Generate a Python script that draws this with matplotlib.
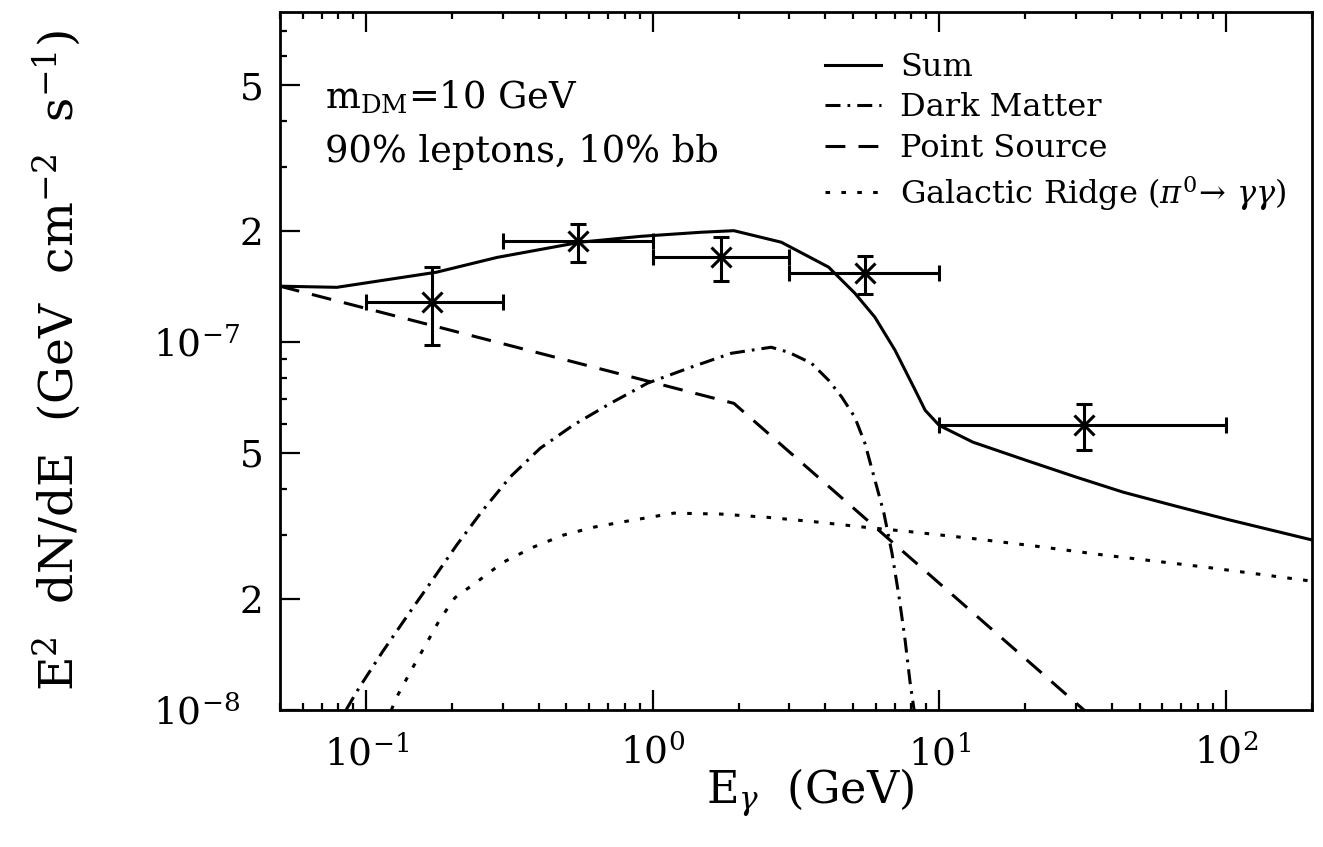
import matplotlib
matplotlib.use("Agg")
import matplotlib.pyplot as plt
import matplotlib.ticker as ticker

plt.rcParams["font.family"] = ["DejaVu Serif"]
plt.rcParams["mathtext.fontset"] = "dejavuserif"

# ── data (E in GeV, E^2 dN/dE in GeV cm^-2 s^-1) ──
sum_E = [0.05, 0.079, 0.176, 0.286, 0.558, 0.908, 1.47, 1.92, 2.81, 4.11, 5.07,
         5.96, 7.01, 8.24, 8.93, 10.0, 13.1, 20.0, 30.0, 43.9, 67.3, 101, 200]
sum_F = [1.42e-7, 1.41e-7, 1.55e-7, 1.70e-7, 1.87e-7, 1.94e-7, 1.99e-7, 2.01e-7,
         1.87e-7, 1.60e-7, 1.36e-7, 1.17e-7, 9.51e-8, 7.41e-8, 6.53e-8, 5.94e-8,
         5.35e-8, 4.78e-8, 4.30e-8, 3.91e-8, 3.58e-8, 3.30e-8, 2.90e-8]

dm_E = [0.085, 0.0945, 0.114, 0.1416, 0.1705, 0.207, 0.255, 0.318, 0.405, 0.528,
        0.712, 0.960, 1.36, 1.88, 2.59, 2.98, 3.58, 4.11, 4.57, 5.07, 5.50, 6.41,
        6.84, 7.24, 7.60, 7.91, 8.17, 8.5]
dm_F = [1.00e-8, 1.15e-8, 1.44e-8, 1.84e-8, 2.26e-8, 2.81e-8, 3.49e-8, 4.30e-8,
        5.15e-8, 5.95e-8, 6.82e-8, 7.74e-8, 8.55e-8, 9.33e-8, 9.69e-8, 9.39e-8,
        8.77e-8, 7.88e-8, 7.09e-8, 6.26e-8, 5.32e-8, 3.43e-8, 2.67e-8, 2.03e-8,
        1.55e-8, 1.19e-8, 1.00e-8, 0.5e-8]

ps_E = [0.05, 1.92, 32.0, 200]
ps_F = [1.42e-7, 6.82e-8, 1.00e-8, 2.9e-9]

gr_E = [0.1224, 0.1274, 0.145, 0.1625, 0.1805, 0.204, 0.249, 0.300, 0.382, 0.488,
        0.621, 0.791, 1.185, 1.73, 2.53, 3.67, 5.50, 8.04, 13.4, 21.7, 37.3, 83.7, 200]
gr_F = [1.00e-8, 1.08e-8, 1.30e-8, 1.52e-8, 1.76e-8, 2.02e-8, 2.26e-8, 2.52e-8,
        2.77e-8, 2.99e-8, 3.14e-8, 3.25e-8, 3.43e-8, 3.41e-8, 3.34e-8, 3.25e-8,
        3.14e-8, 3.05e-8, 2.92e-8, 2.79e-8, 2.64e-8, 2.45e-8, 2.24e-8]

# data points: bin centre, bin edges, flux and its error range
pt_E    = [0.17, 0.55, 1.73, 5.5, 32.0]
pt_Elo  = [0.1, 0.3, 1.0, 3.0, 10.0]
pt_Ehi  = [0.3, 1.0, 3.0, 10.0, 100.0]
pt_F    = [1.29e-7, 1.88e-7, 1.70e-7, 1.54e-7, 5.95e-8]
pt_Flo  = [0.98e-7, 1.65e-7, 1.47e-7, 1.35e-7, 5.09e-8]
pt_Fhi  = [1.60e-7, 2.10e-7, 1.93e-7, 1.72e-7, 6.79e-8]

x_ticks = [0.1, 1, 10, 100]
x_labels = [r"$10^{-1}$", r"$10^{0}$", r"$10^{1}$", r"$10^{2}$"]
y_decades = [1e-8, 1e-7]
y_decade_labels = [r"$10^{-8}$", r"$10^{-7}$"]
y_mid = [2e-8, 5e-8, 2e-7, 5e-7]
y_mid_labels = ["2", "5", "2", "5"]

fig = plt.figure(figsize=(13.23, 8.47), dpi=100)
ax = fig.add_axes([0.2116, 0.1617, 0.7801, 0.8241])
ax.set_xscale("log")
ax.set_yscale("log")
ax.set_xlim(0.05, 200)
ax.set_ylim(1e-8, 7.9e-7)

lw = 2.2
ax.plot(sum_E, sum_F, color="black", lw=lw, label="Sum")
ax.plot(dm_E, dm_F, color="black", lw=lw, dashes=(4.9, 2.3, 0.9, 2.3), label="Dark Matter")
ax.plot(ps_E, ps_F, color="black", lw=lw, dashes=(6.5, 4.3), label="Point Source")
ax.plot(gr_E, gr_F, color="black", lw=lw, dashes=(1.5, 3.7),
        label=r"Galactic Ridge ($\pi^0\!\rightarrow\,\gamma\gamma$)")

xerr = [[c - lo for c, lo in zip(pt_E, pt_Elo)], [hi - c for c, hi in zip(pt_E, pt_Ehi)]]
yerr = [[c - lo for c, lo in zip(pt_F, pt_Flo)], [hi - c for c, hi in zip(pt_F, pt_Fhi)]]
ax.errorbar(pt_E, pt_F, xerr=xerr, yerr=yerr, fmt="x", color="black", ms=14, mew=2.2,
            elinewidth=2.2, capsize=5.5, capthick=2.2)

# ── axes styling ──
for sp in ax.spines.values():
    sp.set_linewidth(2.0)

ax.xaxis.set_major_locator(ticker.FixedLocator(x_ticks))
ax.xaxis.set_major_formatter(ticker.FixedFormatter(x_labels))
ax.xaxis.set_minor_locator(ticker.LogLocator(base=10, subs=range(2, 10), numticks=20))
ax.xaxis.set_minor_formatter(ticker.NullFormatter())

ax.yaxis.set_major_locator(ticker.FixedLocator(y_decades + y_mid))
ax.yaxis.set_major_formatter(ticker.FixedFormatter(["", ""] + y_mid_labels))
ax.yaxis.set_minor_locator(ticker.LogLocator(base=10, subs=(3, 4, 6, 7, 8, 9), numticks=20))
ax.yaxis.set_minor_formatter(ticker.NullFormatter())

ax.tick_params(which="both", direction="in", top=True, right=True, width=1.6,
               labelsize=27)
ax.tick_params(which="major", length=14.5)
ax.tick_params(which="minor", length=5)
ax.tick_params(axis="x", which="major", pad=18)
ax.tick_params(axis="y", which="major", pad=12)

# decade labels on the y axis sit further out
ax2 = ax.twinx()
ax2.set_yscale("log")
ax2.set_ylim(ax.get_ylim())
ax2.yaxis.set_ticks_position("left")
ax2.yaxis.set_major_locator(ticker.FixedLocator(y_decades))
ax2.yaxis.set_major_formatter(ticker.FixedFormatter(y_decade_labels))
ax2.yaxis.set_minor_locator(ticker.NullLocator())
ax2.tick_params(axis="y", which="both", length=0, pad=29, labelsize=27,
                left=True, right=False, labelleft=True, labelright=False)
for sp in ax2.spines.values():
    sp.set_visible(False)

ax.text(0.0436, 0.878, r"m$_{\mathrm{DM}}$=10 GeV", transform=ax.transAxes,
        fontsize=26.5, va="center", ha="left")
ax.text(0.0436, 0.799, "90% leptons, 10% bb", transform=ax.transAxes,
        fontsize=26.5, va="center", ha="left")

ax.legend(loc="upper left", bbox_to_anchor=(0.528, 0.943), frameon=False,
          fontsize=23, handlelength=1.75, handletextpad=0.6, labelspacing=0.3,
          borderpad=0, borderaxespad=0)

fig.text(0.043, 0.574, r"E$^2$  dN/dE  (GeV  cm$^{-2}$  s$^{-1}$)", rotation=90,
         ha="center", va="center", fontsize=34)
fig.text(0.612, 0.063, r"E$_\gamma$  (GeV)", ha="center", va="center", fontsize=32)

fig.savefig("out.png", dpi=100)
